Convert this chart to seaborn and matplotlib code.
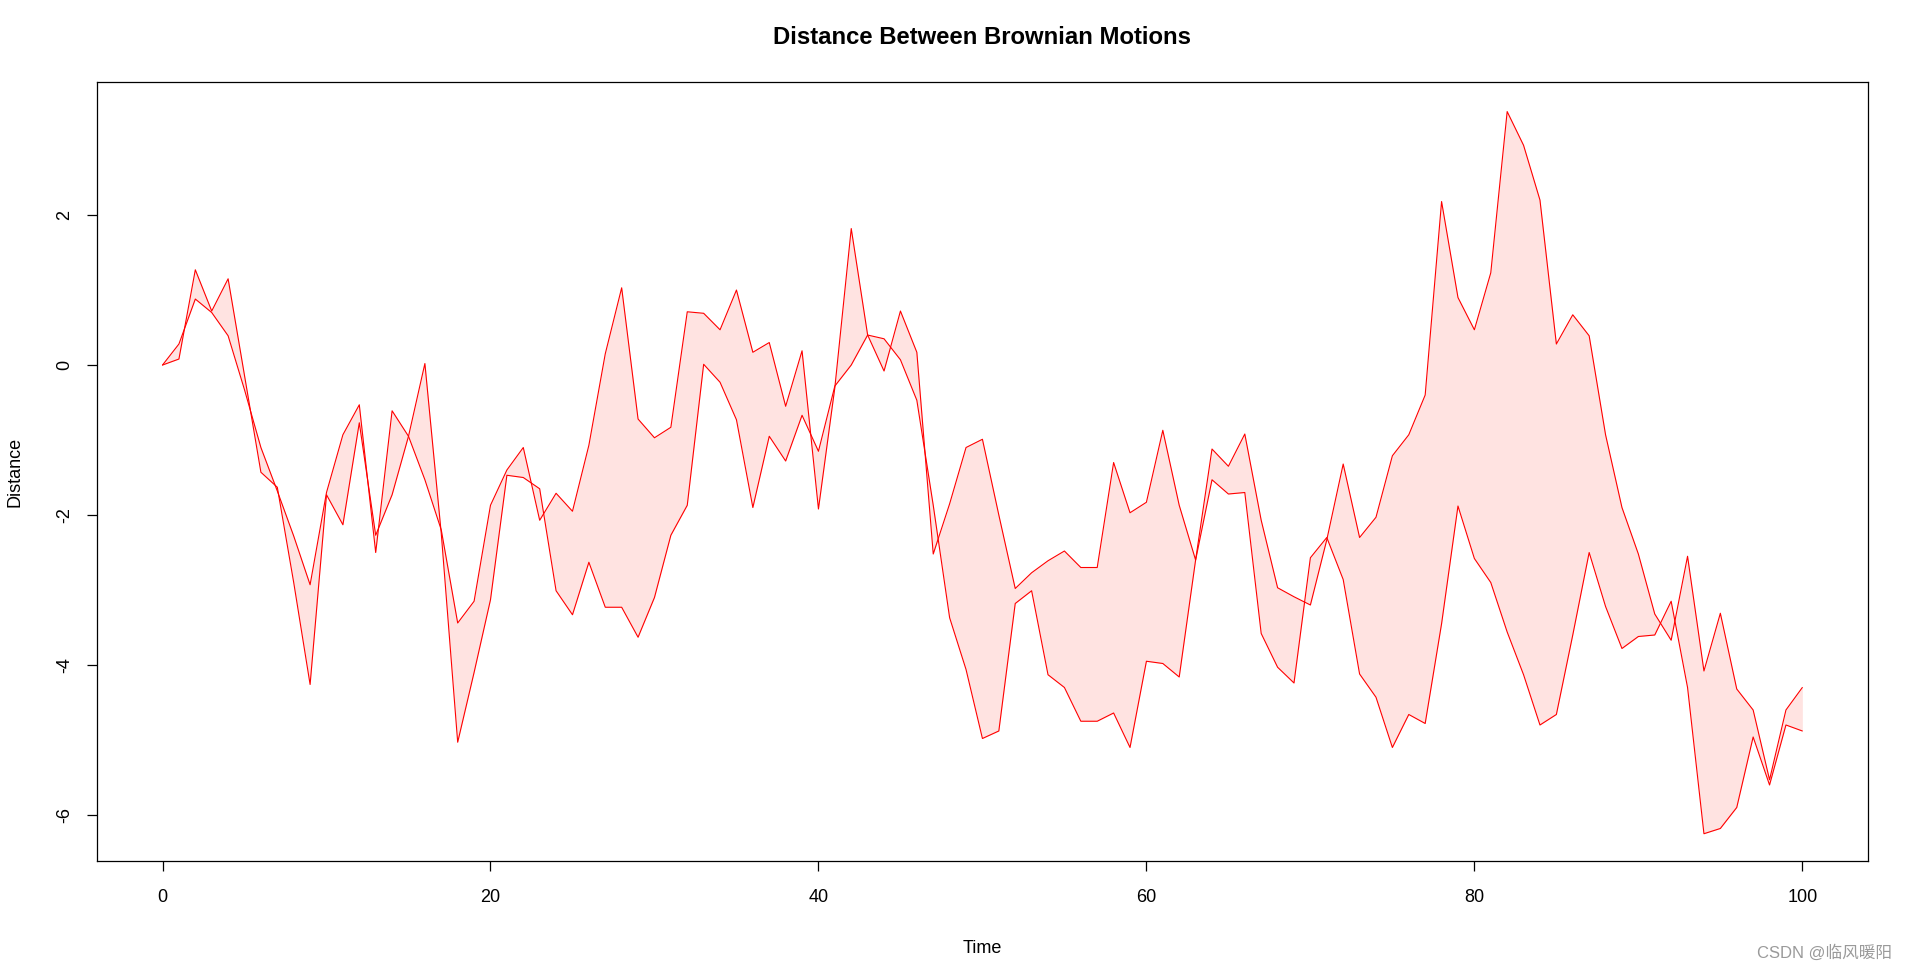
import numpy as np
import pandas as pd
import seaborn as sns
import matplotlib.pyplot as plt

# time steps and the two Brownian paths
time = list(range(101))

path_a = [0.00, 0.08, 1.27, 0.72, 1.15, -0.14, -1.43, -1.63, -2.90, -4.26,
          -1.73, -2.13, -0.77, -2.27, -1.73, -0.95, 0.02, -2.25, -5.03, -4.10,
          -3.13, -1.47, -1.50, -1.65, -3.01, -3.33, -2.63, -3.23, -3.23, -3.63,
          -3.10, -2.27, -1.87, 0.01, -0.23, -0.73, -1.90, -0.95, -1.28, -0.67,
          -1.15, -0.28, 0.00, 0.40, 0.35, 0.07, -0.47, -1.87, -3.37, -4.06,
          -4.98, -4.88, -3.18, -3.01, -4.13, -4.30, -4.75, -4.75, -4.64, -5.10,
          -3.95, -3.98, -4.16, -2.60, -1.53, -1.72, -1.70, -3.58, -4.03, -4.24,
          -2.57, -2.30, -2.86, -4.12, -4.43, -5.10, -4.66, -4.78, -3.45, -1.88,
          -2.58, -2.90, -3.56, -4.13, -4.80, -4.66, -3.60, -2.50, -3.22, -3.78,
          -3.62, -3.60, -3.15, -4.30, -6.25, -6.18, -5.90, -4.96, -5.60, -4.80,
          -4.88]

path_b = [0.00, 0.28, 0.88, 0.70, 0.39, -0.33, -1.10, -1.68, -2.28, -2.93,
          -1.70, -0.93, -0.53, -2.50, -0.61, -0.95, -1.53, -2.20, -3.44, -3.15,
          -1.87, -1.40, -1.10, -2.07, -1.71, -1.95, -1.07, 0.15, 1.03, -0.72,
          -0.97, -0.83, 0.71, 0.69, 0.47, 1.00, 0.17, 0.30, -0.55, 0.19,
          -1.92, -0.30, 1.82, 0.40, -0.08, 0.72, 0.17, -2.52, -1.85, -1.10,
          -0.99, -2.00, -2.98, -2.77, -2.61, -2.48, -2.70, -2.70, -1.30, -1.97,
          -1.83, -0.87, -1.87, -2.60, -1.12, -1.35, -0.92, -2.07, -2.97, -3.09,
          -3.20, -2.33, -1.32, -2.30, -2.03, -1.21, -0.93, -0.40, 2.18, 0.90,
          0.47, 1.23, 3.38, 2.93, 2.20, 0.28, 0.67, 0.39, -0.93, -1.90,
          -2.52, -3.32, -3.67, -2.55, -4.08, -3.31, -4.32, -4.60, -5.53, -4.60,
          -4.30]

x_ticks = [0, 20, 40, 60, 80, 100]
y_ticks = [-6, -4, -2, 0, 2]

df = pd.DataFrame({'Time': time, 'A': path_a, 'B': path_b})

sns.set_theme(style="white")
plt.rcParams['font.family'] = ['Liberation Sans', 'Noto Sans CJK SC', 'DejaVu Sans']

fig = plt.figure(figsize=(19.08, 9.71), dpi=100)
ax = fig.add_axes([0.0508, 0.1128, 0.9282, 0.8032])

ax.fill_between(df['Time'], df['A'], df['B'], color='#FFE3E1', linewidth=0)
sns.lineplot(data=df, x='Time', y='A', color='red', linewidth=0.8, ax=ax)
sns.lineplot(data=df, x='Time', y='B', color='red', linewidth=0.8, ax=ax)

ax.set_xlim(-4, 104)
ax.set_ylim(-6.62, 3.78)
ax.set_xticks(x_ticks)
ax.set_yticks(y_ticks)
ax.set_yticklabels([str(v) for v in y_ticks], rotation=90, va='center')

for s in ax.spines.values():
    s.set_color('black')
    s.set_linewidth(0.9)

ax.tick_params(axis='both', direction='out', length=7, width=0.9, color='black',
               labelsize=13, labelcolor='black', bottom=True, left=True)
ax.tick_params(axis='x', pad=13)
ax.tick_params(axis='y', pad=10)

ax.set_xlabel('Time', fontsize=13, color='black')
ax.xaxis.label.set_va('center')
ax.xaxis.set_label_coords(0.5, -0.111)
ax.set_ylabel('Distance', fontsize=13, color='black')
ax.yaxis.label.set_va('center')
ax.yaxis.set_label_coords(-0.0465, 0.5)

ax.set_title('Distance Between Brownian Motions', fontsize=17.2, fontweight='bold',
             color='black', y=1.0565, pad=0, va='center')

fig.text(0.9915, 0.019, 'CSDN @临风暖阳', ha='right', va='center', fontsize=12,
         color='#9a9a9a')

plt.savefig('out.png', dpi=100)
